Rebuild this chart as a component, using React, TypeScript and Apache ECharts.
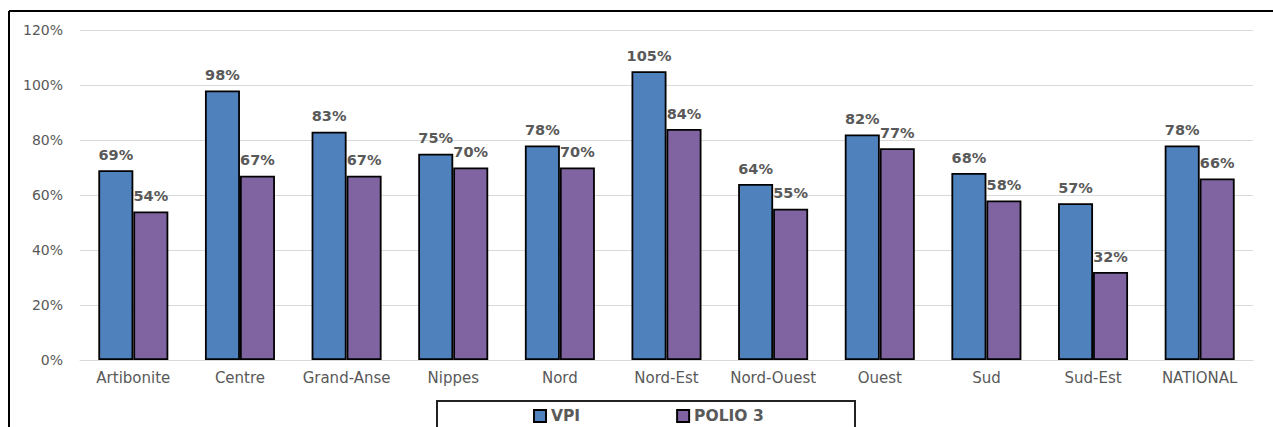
import React, { useEffect, useRef } from "react";
import * as echarts from "echarts";

// Coverage per department, in percent
const departments = [
  "Artibonite",
  "Centre",
  "Grand-Anse",
  "Nippes",
  "Nord",
  "Nord-Est",
  "Nord-Ouest",
  "Ouest",
  "Sud",
  "Sud-Est",
  "NATIONAL",
];
const vpi = [69, 98, 83, 75, 78, 105, 64, 82, 68, 57, 78];
const polio3 = [54, 67, 67, 70, 70, 84, 55, 77, 58, 32, 66];
const seriesNames = ["VPI", "POLIO 3"];

const FONT = "'DejaVu Sans', Verdana, sans-serif";
const TEXT = "#595959";

export default function App() {
  const ref = useRef<HTMLDivElement>(null);

  useEffect(() => {
    if (!ref.current) return;
    const chart = echarts.init(ref.current, null, { renderer: "svg" });

    const labelStyle = {
      show: true,
      position: "top" as const,
      distance: 8,
      formatter: (p: any) => `${p.value}%`,
      fontFamily: FONT,
      fontSize: 14.5,
      fontWeight: "bold" as const,
      color: TEXT,
    };

    chart.setOption({
      animation: false,
      backgroundColor: "#ffffff",
      textStyle: { fontFamily: FONT },
      grid: { left: 80, right: 20, top: 30, bottom: 67, containLabel: false },
      legend: {
        data: seriesNames,
        left: 533,
        top: 408,
        padding: 0,
        itemWidth: 12,
        itemHeight: 12,
        itemGap: 96,
        icon: "rect",
        textStyle: {
          fontFamily: FONT,
          fontSize: 15.5,
          fontWeight: "bold",
          color: TEXT,
          padding: [0, 0, 0, 0],
        },
      },
      graphic: [
        {
          type: "line",
          shape: { x1: 9, y1: 11, x2: 1273, y2: 11 },
          style: { stroke: "#000", lineWidth: 2 },
          silent: true,
        },
        {
          type: "line",
          shape: { x1: 9, y1: 11, x2: 9, y2: 427 },
          style: { stroke: "#000", lineWidth: 2 },
          silent: true,
        },
        {
          type: "rect",
          shape: { x: 437, y: 401, width: 418, height: 40 },
          style: { fill: "none", stroke: "#222", lineWidth: 2 },
          silent: true,
        },
      ],
      xAxis: {
        type: "category",
        data: departments,
        axisTick: { show: false },
        axisLine: { show: true, lineStyle: { color: "#d9d9d9", width: 1 } },
        axisLabel: {
          fontFamily: FONT,
          fontSize: 15,
          color: TEXT,
          margin: 10,
          interval: 0,
        },
      },
      yAxis: {
        type: "value",
        min: 0,
        max: 120,
        interval: 20,
        axisLine: { show: false },
        axisTick: { show: false },
        splitLine: { lineStyle: { color: "#d9d9d9", width: 1 } },
        axisLabel: {
          fontFamily: FONT,
          fontSize: 14,
          color: TEXT,
          margin: 17,
          formatter: (v: number) => `${v}%`,
        },
      },
      series: [
        {
          name: seriesNames[0],
          type: "bar",
          data: vpi,
          barWidth: 35,
          barGap: "0%",
          itemStyle: { color: "#4F81BD", borderColor: "#000", borderWidth: 1.8 },
          label: labelStyle,
        },
        {
          name: seriesNames[1],
          type: "bar",
          data: polio3,
          barWidth: 35,
          barGap: "0%",
          itemStyle: { color: "#8064A2", borderColor: "#000", borderWidth: 1.8 },
          label: labelStyle,
        },
      ],
    });

    return () => chart.dispose();
  }, []);

  return (
    <div
      ref={ref}
      style={{ position: "fixed", left: 0, top: 0, width: 1273, height: 427 }}
    />
  );
}
